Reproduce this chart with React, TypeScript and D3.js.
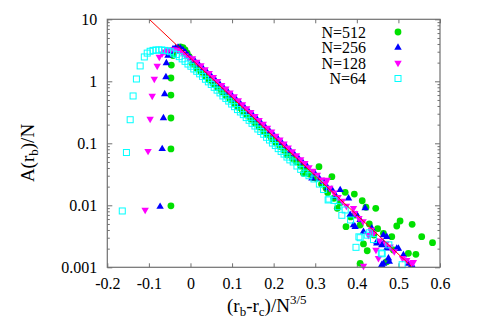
import React, { useEffect, useRef } from 'react';
import * as d3 from 'd3';

// scaled data, x = (r_b - r_c)/N^(3/5), y = A(r_b)/N
const n512: [number, number][] = [
    [-0.047, 0.0098], [-0.047, 0.081], [-0.047, 0.256], [-0.047, 0.60], [-0.047, 1.13], [-0.046, 1.83],
    [-0.042, 2.6], [-0.036, 3.1], [-0.03, 3.4], [-0.024, 3.6], [-0.018, 3.5], [-0.013, 3.2], [-0.008, 2.85], [-0.003, 2.5],
    [0.005, 1.9], [0.015, 1.63], [0.025, 1.41], [0.035, 1.22], [0.045, 1.05], [0.055, 0.91], [0.065, 0.79],
    [0.075, 0.68], [0.085, 0.59], [0.095, 0.51], [0.105, 0.44], [0.115, 0.38], [0.125, 0.33], [0.135, 0.285],
    [0.145, 0.246], [0.155, 0.213], [0.165, 0.184], [0.175, 0.159], [0.185, 0.137], [0.195, 0.119], [0.205, 0.103],
    [0.215, 0.089], [0.225, 0.077], [0.232, 0.0646], [0.235, 0.066], [0.245, 0.057], [0.255, 0.05], [0.265, 0.043],
    [0.2716, 0.0328], [0.275, 0.037], [0.285, 0.032], [0.295, 0.028], [0.302, 0.0272], [0.309, 0.042], [0.315, 0.022],
    [0.326, 0.0188], [0.33, 0.016], [0.34, 0.0289], [0.345, 0.013], [0.353, 0.00895], [0.36, 0.011], [0.372, 0.0162],
    [0.374, 0.00452], [0.385, 0.0065], [0.394, 0.0152], [0.396, 0.00698], [0.408, 0.00481], [0.408, 0.00116],
    [0.413, 0.01185], [0.416, 0.00238], [0.422, 0.0093], [0.425, 0.00185], [0.43, 0.005], [0.441, 0.00332],
    [0.4455, 0.00895], [0.45, 0.0042], [0.464, 0.00353], [0.472, 0.00123], [0.484, 0.00312], [0.488, 0.0019],
    [0.496, 0.00464], [0.504, 0.00558], [0.524, 0.00168], [0.533, 0.00494], [0.542, 0.00162], [0.556, 0.00312],
    [0.582, 0.0025]
];

const n256: [number, number][] = [
    [-0.073, 0.0095], [-0.068, 0.081], [-0.065, 0.256], [-0.062, 0.62], [-0.059, 1.17], [-0.058, 1.97],
    [-0.054, 2.6], [-0.048, 3.0], [-0.042, 3.3], [-0.036, 3.45], [-0.03, 3.5], [-0.024, 3.4], [-0.018, 3.2],
    [-0.012, 2.9], [-0.006, 2.6], [0.0, 2.35], [0.01, 2.15], [0.02, 1.86], [0.03, 1.6], [0.04, 1.39], [0.05, 1.2],
    [0.06, 1.04], [0.07, 0.9], [0.08, 0.78], [0.09, 0.67], [0.1, 0.585], [0.11, 0.505], [0.12, 0.435], [0.13, 0.378],
    [0.14, 0.325], [0.15, 0.282], [0.16, 0.243], [0.17, 0.21], [0.18, 0.182], [0.19, 0.158], [0.2, 0.136],
    [0.21, 0.118], [0.22, 0.101], [0.23, 0.088], [0.24, 0.076], [0.25, 0.066], [0.26, 0.057], [0.27, 0.049],
    [0.28, 0.043], [0.292, 0.0272], [0.3, 0.032], [0.31, 0.027], [0.32, 0.024], [0.33, 0.019], [0.34, 0.018],
    [0.35, 0.014], [0.36, 0.0177], [0.38, 0.013], [0.384, 0.007], [0.392, 0.0048], [0.396, 0.0045], [0.4, 0.007],
    [0.408, 0.0058], [0.416, 0.00375], [0.42, 0.009], [0.436, 0.00426], [0.436, 0.00375], [0.448, 0.00259],
    [0.448, 0.00244], [0.46, 0.00229], [0.46, 0.0011], [0.464, 0.0033], [0.464, 0.00244], [0.464, 0.00115],
    [0.472, 0.0031], [0.472, 0.00202], [0.476, 0.0014], [0.478, 0.00123], [0.496, 0.002], [0.5, 0.002],
    [0.512, 0.00158], [0.524, 0.00115], [0.532, 0.0011]
];

const n128: [number, number][] = [
    [-0.109, 0.0084], [-0.102, 0.075], [-0.097, 0.247], [-0.092, 0.58], [-0.087, 1.09], [-0.08, 1.77],
    [-0.075, 2.47], [-0.068, 2.8], [-0.061, 3.0], [-0.054, 3.15], [-0.047, 3.25], [-0.04, 3.25], [-0.033, 3.2],
    [-0.026, 3.05], [-0.019, 2.85], [-0.012, 2.6], [-0.005, 2.4], [0.005, 2.35], [0.015, 2.05], [0.025, 1.8],
    [0.035, 1.56], [0.045, 1.35], [0.055, 1.17], [0.065, 1.01], [0.075, 0.87], [0.085, 0.76], [0.095, 0.655],
    [0.105, 0.57], [0.115, 0.49], [0.125, 0.425], [0.135, 0.365], [0.145, 0.318], [0.155, 0.275], [0.165, 0.237],
    [0.175, 0.205], [0.185, 0.177], [0.195, 0.154], [0.205, 0.132], [0.215, 0.114], [0.225, 0.099], [0.235, 0.085],
    [0.245, 0.074], [0.255, 0.064], [0.265, 0.055], [0.275, 0.048], [0.285, 0.041], [0.295, 0.036], [0.305, 0.031],
    [0.315, 0.026], [0.325, 0.023], [0.329, 0.0257], [0.335, 0.019], [0.345, 0.016], [0.355, 0.0135], [0.365, 0.0118],
    [0.375, 0.0098], [0.392, 0.009], [0.395, 0.0075], [0.405, 0.0062], [0.415, 0.0055], [0.416, 0.00105],
    [0.428, 0.0033], [0.435, 0.004], [0.44, 0.0035], [0.446, 0.0019], [0.452, 0.0014], [0.455, 0.0027],
    [0.47, 0.0024], [0.48, 0.00215], [0.49, 0.0018], [0.51, 0.0014], [0.52, 0.0013], [0.532, 0.00118], [0.536, 0.00121]
];

const n64: [number, number][] = [
    [-0.164, 0.0081], [-0.154, 0.071], [-0.145, 0.24], [-0.138, 0.58], [-0.13, 1.09], [-0.121, 1.77],
    [-0.111, 2.47], [-0.104, 2.85], [-0.097, 3.05], [-0.09, 3.15], [-0.083, 3.2], [-0.076, 3.2], [-0.069, 3.2],
    [-0.062, 3.15], [-0.055, 3.1], [-0.048, 3.0], [-0.041, 2.85], [-0.034, 2.7], [-0.027, 2.5], [-0.02, 2.3],
    [-0.013, 2.1], [-0.006, 1.9], [0.001, 1.75], [0.008, 1.58], [0.015, 1.45], [0.022, 1.32], [0.029, 1.2],
    [0.036, 1.08], [0.043, 0.98], [0.05, 0.89], [0.057, 0.8], [0.064, 0.72], [0.071, 0.65], [0.078, 0.58],
    [0.085, 0.53], [0.092, 0.48], [0.099, 0.43], [0.106, 0.39], [0.113, 0.35], [0.12, 0.32], [0.127, 0.29],
    [0.134, 0.26], [0.141, 0.235], [0.148, 0.21], [0.155, 0.19], [0.162, 0.17], [0.169, 0.155], [0.176, 0.14],
    [0.183, 0.125], [0.19, 0.113], [0.197, 0.101], [0.204, 0.092], [0.211, 0.082], [0.218, 0.074], [0.225, 0.067],
    [0.232, 0.06], [0.239, 0.054], [0.247, 0.05], [0.256, 0.043], [0.265, 0.038], [0.275, 0.033], [0.285, 0.03],
    [0.297, 0.0266], [0.31, 0.022], [0.32, 0.018], [0.331, 0.0122], [0.333, 0.0126], [0.345, 0.012], [0.355, 0.0095],
    [0.364, 0.0069], [0.372, 0.0084], [0.385, 0.0058], [0.398, 0.0021], [0.405, 0.0031], [0.408, 0.003],
    [0.425, 0.0033], [0.43, 0.0036], [0.44, 0.0028], [0.459, 0.0017], [0.461, 0.00165], [0.477, 0.0023], [0.509, 0.0011]
];

// red fit line end points
const fitLine: [number, number][] = [[-0.099, 10], [0.5315, 0.00103]];

const seriesNames = ["N=512", "N=256", "N=128", "N=64"];
const seriesColors = ["#00e000", "#0000ff", "#ff00ff", "#00ffff"];

const xTicks = [-0.2, -0.1, 0, 0.1, 0.2, 0.3, 0.4, 0.5, 0.6];
const xTickLabels = ["-0.2", "-0.1", "0", "0.1", "0.2", "0.3", "0.4", "0.5", "0.6"];
const yTicks = [0.001, 0.01, 0.1, 1, 10];
const yTickLabels = ["0.001", "0.01", "0.1", "1", "10"];

export default function App() {
    const ref = useRef<SVGSVGElement>(null);

    useEffect(() => {
        const width = 479, height = 335,
            margin = { top: 19.3, right: 39, bottom: 67.7, left: 107.3 },
            font = "'Liberation Serif', 'Times New Roman', serif",
            frame = "#707070";

        const x = d3.scaleLinear().domain([-0.2, 0.6]).range([margin.left, width - margin.right]);
        const y = d3.scaleLog().domain([0.001, 10]).range([height - margin.bottom, margin.top]);

        const svg = d3.select(ref.current);
        svg.selectAll("*").remove();

        const minor = y.ticks().filter(v => yTicks.indexOf(v) < 0);

        // x axis bottom + top
        const xAxis = (g, axis, ty) => g
            .attr("transform", `translate(0,${ty})`)
            .call(axis)
            .call(g => g.select(".domain").remove())
            .call(g => g.selectAll(".tick line").attr("stroke", frame))
            .call(g => g.selectAll("text").attr("font-family", font).attr("font-size", 16).attr("fill", "#000"));

        svg.append("g").call(xAxis, d3.axisBottom(x).tickValues(xTicks).tickSize(-4).tickPadding(10.5)
            .tickFormat((d, i) => xTickLabels[i]), height - margin.bottom);
        svg.append("g").call(xAxis, d3.axisTop(x).tickValues(xTicks).tickSize(-4).tickFormat(() => ""), margin.top);

        const yAxis = (g, axis, tx) => g
            .attr("transform", `translate(${tx},0)`)
            .call(axis)
            .call(g => g.select(".domain").remove())
            .call(g => g.selectAll(".tick line").attr("stroke", frame))
            .call(g => g.selectAll("text").attr("font-family", font).attr("font-size", 16).attr("fill", "#000"));

        svg.append("g").call(yAxis, d3.axisLeft(y).tickValues(yTicks).tickSize(-5).tickPadding(10)
            .tickFormat((d, i) => yTickLabels[i]), margin.left);
        svg.append("g").call(yAxis, d3.axisLeft(y).tickValues(minor).tickSize(-2.5).tickFormat(() => ""), margin.left);
        svg.append("g").call(yAxis, d3.axisRight(y).tickValues(yTicks).tickSize(-5).tickFormat(() => ""), width - margin.right);
        svg.append("g").call(yAxis, d3.axisRight(y).tickValues(minor).tickSize(-2.5).tickFormat(() => ""), width - margin.right);

        // markers
        const tri = d3.symbol(d3.symbolTriangle, 24);
        const drawMarker = (g, k, px, py) => {
            const c = seriesColors[k];
            if (k === 0) g.append("circle").attr("cx", px).attr("cy", py).attr("r", 3.4).attr("fill", c);
            else if (k === 1) g.append("path").attr("d", tri()).attr("transform", `translate(${px},${py})`).attr("fill", c);
            else if (k === 2) g.append("path").attr("d", tri()).attr("transform", `translate(${px},${py}) rotate(180)`).attr("fill", c);
            else g.append("rect").attr("x", px - 3).attr("y", py - 3).attr("width", 6).attr("height", 6)
                .attr("fill", "none").attr("stroke", c).attr("stroke-width", 1);
        };

        const pts = svg.append("g");
        [n512, n256, n128, n64].forEach((data, k) => {
            data.forEach(d => drawMarker(pts, k, x(d[0]), y(d[1])));
        });

        svg.append("path")
            .datum(fitLine)
            .attr("fill", "none")
            .attr("stroke", "#ff0000")
            .attr("stroke-width", 1)
            .attr("d", d3.line().x(d => x(d[0])).y(d => y(d[1])));

        // frame
        svg.append("rect")
            .attr("x", margin.left).attr("y", margin.top)
            .attr("width", width - margin.left - margin.right)
            .attr("height", height - margin.top - margin.bottom)
            .attr("fill", "none").attr("stroke", frame).attr("stroke-width", 1.2);

        // legend
        const legend = svg.append("g");
        seriesNames.forEach((name, k) => {
            const ly = 32 + k * 15.5;
            legend.append("text")
                .attr("x", 366).attr("y", ly + 5.5)
                .attr("text-anchor", "end")
                .attr("font-family", font).attr("font-size", 16)
                .text(name);
            drawMarker(legend, k, 398, ly);
        });

        // axis titles
        const xl = svg.append("text")
            .attr("x", 227).attr("y", 312)
            .attr("font-family", font).attr("font-size", 19);
        xl.append("tspan").text("(r");
        xl.append("tspan").attr("dy", 4).attr("font-size", 13).text("b");
        xl.append("tspan").attr("dy", -4).text("-r");
        xl.append("tspan").attr("dy", 4).attr("font-size", 13).text("c");
        xl.append("tspan").attr("dy", -4).text(")/N");
        xl.append("tspan").attr("dy", -8).attr("font-size", 13).text("3/5");

        const yl = svg.append("text")
            .attr("transform", "translate(34,153) rotate(-90)")
            .attr("text-anchor", "middle")
            .attr("font-family", font).attr("font-size", 19);
        yl.append("tspan").text("A(r");
        yl.append("tspan").attr("dy", 4).attr("font-size", 13).text("b");
        yl.append("tspan").attr("dy", -4).text(")/N");
    }, []);

    return (
        <svg ref={ref} width={479} height={335}
            style={{ position: "absolute", left: 0, top: 0, background: "#fff" }} />
    );
}
